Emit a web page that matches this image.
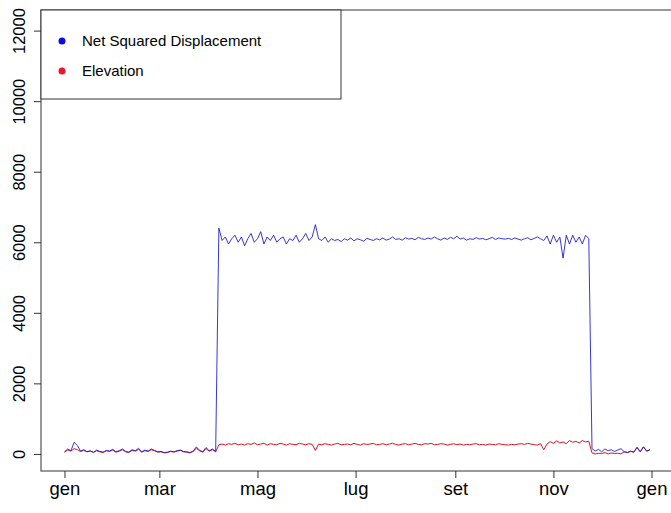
<!DOCTYPE html>
<html>
<head>
<meta charset="utf-8">
<script src="https://cdn.jsdelivr.net/npm/d3@7"></script>
<style>
  body { margin: 0; background: #fff; }
  text { font-family: 'Liberation Sans', Arial, sans-serif; fill: #000; }
</style>
</head>
<body>
<div id="chart"></div>
<script>
// one value every 2 days, starting 1 January
const startDate = new Date(2015, 0, 1)
const endDate = new Date(2016, 0, 1)
const stepDays = 2

const nsdValues = [
  // gen - inizio apr
  60, 140, 90, 330, 240, 80, 120, 60, 90, 40, 110, 70, 50, 100, 80, 130,
  60, 90, 140, 70, 50, 120, 90, 160, 60, 110, 80, 140, 100, 60, 70, 40,
  50, 80, 60, 90, 110, 70, 60, 40, 80, 200, 100, 60, 180, 90, 140, 70,
  // apr - nov
  6400, 6050, 6150, 5950, 6100, 6200, 6000, 6150, 5900, 6100,
  6250, 6000, 6100, 6300, 5950, 6150, 6050, 6200, 6000, 6100,
  6150, 5950, 6100, 6050, 6200, 6000, 6100, 6250, 6050, 6150,
  6500, 6100, 6050, 6150, 6000, 6100, 6050, 6080, 6020, 6100,
  6060, 6120, 6040, 6100, 6070, 6030, 6110, 6080, 6050, 6100,
  6070, 6120, 6060, 6090, 6150, 6080, 6100, 6060, 6130, 6090,
  6110, 6070, 6140, 6100, 6080, 6120, 6090, 6150, 6100, 6060,
  6120, 6080, 6140, 6100, 6170, 6090, 6120, 6060, 6100, 6080,
  6130, 6090, 6110, 6070, 6100, 6140, 6080, 6120, 6100, 6090,
  6110, 6080, 6120, 6090, 6060, 6100, 6130, 6070, 6110, 6150,
  6100, 6050, 6180, 5950, 6200, 6000, 6150, 5550, 6200, 5950,
  6200, 6000, 6150, 5950, 6200, 6100,
  // fine nov - dic
  150, 80, 130, 60, 140, 90, 120, 70, 110, 150, 60, 40, 70, 50, 190, 60,
  200, 80, 120
]

const elevationValues = [
  50, 110, 80, 150, 120, 70, 100, 60, 80, 50, 90, 60, 40, 90, 70, 110,
  50, 80, 120, 60, 40, 100, 80, 130, 50, 90, 70, 120, 90, 50, 60, 30,
  40, 70, 50, 80, 100, 60, 50, 30, 70, 160, 90, 50, 150, 80, 120, 60,
  260, 280, 250, 290, 270, 300, 260, 280, 250, 290,
  270, 310, 260, 280, 300, 250, 290, 270, 260, 300,
  280, 250, 290, 270, 260, 300, 280, 260, 290, 270,
  100, 280, 260, 290, 270, 250, 280, 300, 260, 270,
  280, 260, 300, 270, 250, 290, 270, 280, 300, 260,
  270, 290, 260, 280, 300, 270, 250, 280, 290, 260,
  280, 300, 270, 260, 290, 280, 300, 260, 270, 290,
  280, 250, 270, 290, 260, 280, 250, 270, 260, 280,
  290, 260, 270, 250, 280, 270, 260, 290, 270, 260,
  250, 270, 260, 280, 290, 270, 300, 280, 260, 250,
  290, 120, 280, 350, 300, 370, 310, 340, 290, 380,
  330, 360, 310, 380, 340, 360,
  30, 0, 20, 10, 40, 0, 30, 10, 20, 0, 60, 40, 80, 50, 180, 60,
  200, 80, 120
]

const yTicks = [0, 2000, 4000, 6000, 8000, 10000, 12000]
const monthLabels = ['gen', 'feb', 'mar', 'apr', 'mag', 'giu', 'lug', 'ago', 'set', 'ott', 'nov', 'dic']
const legendLabels = ['Net Squared Displacement', 'Elevation']
const seriesColors = ['#1414d2', '#e0141e']
const dotColors = ['#0a0ae6', '#f0142a']

const width = 671
const height = 513
const plot = { left: 41, right: 675, top: 10, bottom: 471 }

const svg = d3
  .select('#chart')
  .append('svg')
  .attr('width', width)
  .attr('height', height)

// R style: 4% padding on both axes
const dayMs = 24 * 3600 * 1000
const xPad = (endDate - startDate) * 0.04
const xPositionScale = d3
  .scaleTime()
  .domain([new Date(+startDate - xPad), new Date(+endDate + xPad)])
  .range([plot.left, plot.right])

const yMax = 12100
const yPad = yMax * 0.04
const yPositionScale = d3
  .scaleLinear()
  .domain([-yPad, yMax + yPad])
  .range([plot.bottom, plot.top])

const dateAt = i => new Date(+startDate + i * stepDays * dayMs)

const line = d3
  .line()
  .x((d, i) => xPositionScale(dateAt(i)))
  .y(d => yPositionScale(d))

svg
  .append('path')
  .datum(elevationValues)
  .attr('fill', 'none')
  .attr('stroke', seriesColors[1])
  .attr('stroke-width', 1)
  .attr('d', line)

svg
  .append('path')
  .datum(nsdValues)
  .attr('fill', 'none')
  .attr('stroke', seriesColors[0])
  .attr('stroke-width', 1)
  .attr('stroke-opacity', 0.85)
  .attr('d', line)

// box
svg
  .append('rect')
  .attr('x', plot.left)
  .attr('y', plot.top)
  .attr('width', plot.right - plot.left)
  .attr('height', plot.bottom - plot.top)
  .attr('fill', 'none')
  .attr('stroke', '#333')

// y axis
const yAxis = d3
  .axisLeft(yPositionScale)
  .tickValues(yTicks)
  .tickSize(7)
  .tickPadding(0)
  .tickFormat(d3.format('d'))

const yG = svg
  .append('g')
  .attr('class', 'axis y-axis')
  .attr('transform', 'translate(' + plot.left + ',0)')
  .call(yAxis)
yG.select('.domain').remove()
yG.selectAll('line').attr('stroke', '#333')
yG.selectAll('text')
  .attr('x', 0)
  .attr('dy', 0)
  .attr('transform', 'translate(-16,0) rotate(-90)')
  .attr('text-anchor', 'middle')
  .style('font-size', '16.5px')

// x axis
const xTickDates = d3.timeMonth.every(2).range(startDate, new Date(+endDate + 1))
const xAxis = d3
  .axisBottom(xPositionScale)
  .tickValues(xTickDates)
  .tickSize(7)
  .tickPadding(4)
  .tickFormat(d => monthLabels[d.getMonth()])

const xG = svg
  .append('g')
  .attr('class', 'axis x-axis')
  .attr('transform', 'translate(0,' + plot.bottom + ')')
  .call(xAxis)
xG.select('.domain').remove()
xG.selectAll('line').attr('stroke', '#333')
xG.selectAll('text').style('font-size', '18.5px')

// legend
const legend = svg.append('g').attr('class', 'legend')
legend
  .append('rect')
  .attr('x', plot.left)
  .attr('y', plot.top)
  .attr('width', 300)
  .attr('height', 89)
  .attr('fill', '#fff')
  .attr('stroke', '#333')

legendLabels.forEach((label, i) => {
  legend
    .append('circle')
    .attr('cx', plot.left + 21)
    .attr('cy', plot.top + 31 + i * 30)
    .attr('r', 3.5)
    .attr('fill', dotColors[i])
  legend
    .append('text')
    .attr('x', plot.left + 41)
    .attr('y', plot.top + 36 + i * 30)
    .style('font-size', '15px')
    .text(label)
})
</script>
</body>
</html>
